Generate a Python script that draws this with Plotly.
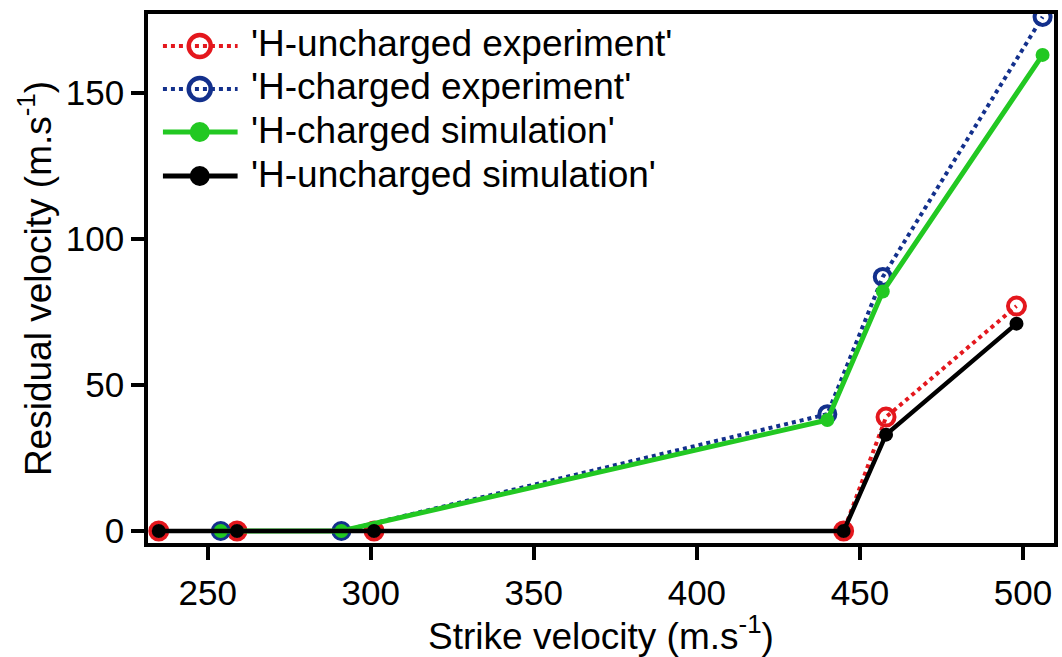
import plotly.graph_objects as go

# Data
unch_exp_x = [235, 259, 301, 445, 458, 498]
unch_exp_y = [0, 0, 0, 0, 39, 77]
ch_exp_x = [254, 291, 440, 457, 506]
ch_exp_y = [0, 0, 40, 87, 176]
ch_sim_x = [254, 291, 440, 457, 506]
ch_sim_y = [0, 0, 38, 82, 163]
unch_sim_x = [235, 259, 301, 445, 458, 498]
unch_sim_y = [0, 0, 0, 0, 33, 71]

series_names = ["'H-uncharged experiment'", "'H-charged experiment'",
                "'H-charged simulation'", "'H-uncharged simulation'"]

RED = "#E4171D"
BLUE = "#13308C"
GREEN = "#22C822"
BLACK = "#000000"
FONT = "Liberation Sans, Arial, sans-serif"

W, H = 1062, 657
ML, MR, MT, MB = 148, 4, 14, 114
PW, PH = W - ML - MR, H - MT - MB

fig = go.Figure()
fig.add_trace(go.Scatter(
    x=unch_exp_x, y=unch_exp_y, name=series_names[0], mode="lines+markers",
    line=dict(color=RED, width=4, dash="dot"),
    marker=dict(symbol="circle-open", size=17, color=RED, line=dict(width=4, color=RED))))
fig.add_trace(go.Scatter(
    x=ch_exp_x, y=ch_exp_y, name=series_names[1], mode="lines+markers",
    line=dict(color=BLUE, width=4, dash="dot"),
    marker=dict(symbol="circle-open", size=16, color=BLUE, line=dict(width=4, color=BLUE))))
fig.add_trace(go.Scatter(
    x=ch_sim_x, y=ch_sim_y, name=series_names[2], mode="lines+markers",
    line=dict(color=GREEN, width=5), marker=dict(symbol="circle", size=14, color=GREEN)))
fig.add_trace(go.Scatter(
    x=unch_sim_x, y=unch_sim_y, name=series_names[3], mode="lines+markers",
    line=dict(color=BLACK, width=4.5), marker=dict(symbol="circle", size=14, color=BLACK)))

# Legend (drawn in paper space, long symbols like the reference)
def px(xp):
    return (xp - ML) / PW

def py(yp):
    return (MT + PH - yp) / PH

legend_style = [
    (RED, "dot", True),
    (BLUE, "dot", True),
    (GREEN, "solid", False),
    (BLACK, "solid", False),
]
row_y = [46, 89, 132, 176]
shapes = []
annotations = []
for (col, dash, is_open), yy, name in zip(legend_style, row_y, series_names):
    lw = 4 if dash == "dot" else 5
    shapes.append(dict(type="line", xref="paper", yref="paper",
                       x0=px(163), x1=px(238), y0=py(yy), y1=py(yy),
                       line=dict(color=col, width=lw, dash=dash)))
    if is_open:
        shapes.append(dict(type="circle", xref="paper", yref="paper",
                           xsizemode="pixel", ysizemode="pixel",
                           xanchor=px(200), yanchor=py(yy), x0=-11, x1=11, y0=-11, y1=11,
                           line=dict(color=col, width=4.5), fillcolor="rgba(0,0,0,0)"))
    else:
        shapes.append(dict(type="circle", xref="paper", yref="paper",
                           xsizemode="pixel", ysizemode="pixel",
                           xanchor=px(200), yanchor=py(yy), x0=-10, x1=10, y0=-10, y1=10,
                           line=dict(color=col, width=0), fillcolor=col))
    annotations.append(dict(text=name, xref="paper", yref="paper", x=px(249), y=py(yy - 2),
                            xanchor="left", yanchor="middle", showarrow=False,
                            font=dict(family=FONT, size=37, color="black")))

axis_common = dict(
    showline=True, linecolor="black", linewidth=3.5, mirror=True,
    ticks="outside", ticklen=13, tickwidth=3.5, tickcolor="black",
    showgrid=False, zeroline=False,
    tickfont=dict(family=FONT, size=35, color="black"),
)

fig.update_layout(
    width=W, height=H,
    margin=dict(l=ML, r=MR, t=MT, b=MB),
    paper_bgcolor="white", plot_bgcolor="white",
    font=dict(family=FONT, size=35, color="black"),
    xaxis=dict(range=[231.7, 509.5], tickvals=[250, 300, 350, 400, 450, 500],
               ticklabelstandoff=3,
               title=dict(text="Strike velocity (m.s<sup>-1</sup>)", font=dict(family=FONT, size=37), standoff=0),
               **axis_common),
    yaxis=dict(range=[-4.1, 177], tickvals=[0, 50, 100, 150],
               title=dict(text="Residual velocity (m.s<sup>-1</sup>)", font=dict(family=FONT, size=37), standoff=4),
               **axis_common),
    showlegend=False,
    shapes=shapes,
    annotations=annotations,
)

fig.write_html("out.html")
